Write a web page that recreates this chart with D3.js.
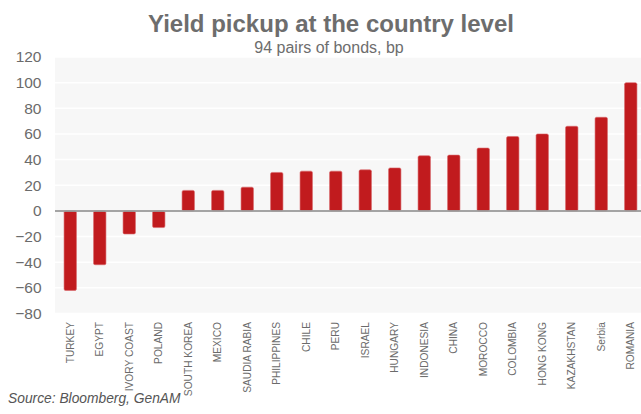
<!DOCTYPE html>
<html><head><meta charset="utf-8">
<script src="https://cdn.jsdelivr.net/npm/d3@7"></script>
<style>body{margin:0;background:#fff;} svg{display:block;font-family:"Liberation Sans",Arial,sans-serif;}</style>
</head><body>
<svg id="chart" width="641" height="414"></svg>
<script>
const categories = ["TURKEY","EGYPT","IVORY COAST","POLAND","SOUTH KOREA","MEXICO","SAUDIA RABIA","PHILIPPINES","CHILE","PERU","ISRAEL","HUNGARY","INDONESIA","CHINA","MOROCCO","COLOMBIA","HONG KONG","KAZAKHSTAN","Serbia","ROMANIA"];
const values = [-62,-42,-18,-13,16,16,18.5,30,31,31,32,33.5,43,43.5,49,58,60,66,73,100];
const yTicks = [-80,-60,-40,-20,0,20,40,60,80,100,120];

const svg = d3.select("#chart");
const x = d3.scaleBand().domain(categories).range([55.5, 645.5]).paddingInner(0.58).paddingOuter(0.29);
const y = d3.scaleLinear().domain([-80,120]).range([313.5, 57]);

// plot background
svg.append("rect").attr("x",55).attr("y",y(120)).attr("width",641-55).attr("height",y(-80)-y(120)).attr("fill","#f7f7f7");

// gridlines
svg.append("g").selectAll("line").data(yTicks.filter(d=>d!==0)).join("line")
  .attr("x1",55).attr("x2",641).attr("y1",d=>y(d)).attr("y2",d=>y(d))
  .attr("stroke","#ffffff").attr("stroke-width",1.5);

// y axis labels
const yAxis = d3.axisLeft(y).tickValues(yTicks).tickSize(0).tickPadding(0);
const gy = svg.append("g").attr("transform","translate(41.5,0)").call(yAxis);
gy.select(".domain").remove();
gy.selectAll("text").attr("font-size",15.5).attr("fill","#6b6b6b").attr("font-family","Liberation Sans, Arial, sans-serif");

// bars
svg.append("g").selectAll("rect").data(values).join("rect")
  .attr("x",(d,i)=>x(categories[i]))
  .attr("width",x.bandwidth())
  .attr("y",d=>Math.min(y(d),y(0)))
  .attr("height",d=>Math.abs(y(d)-y(0)))
  .attr("rx",1.5)
  .attr("fill","#c11b1e")
  .attr("stroke","#d9666a").attr("stroke-width",0.6);

// zero line
svg.append("line").attr("x1",55).attr("x2",641).attr("y1",y(0)).attr("y2",y(0))
  .attr("stroke","#9a9a9a").attr("stroke-width",2).attr("stroke-opacity",0.9);

// x labels
const xAxis = d3.axisBottom(x).tickSize(0).tickPadding(0);
const gx = svg.append("g").attr("transform","translate(0,322)").call(xAxis);
gx.select(".domain").remove();
gx.selectAll("text")
  .attr("transform","rotate(-90)")
  .attr("x",0).attr("y",0).attr("dy","0.35em")
  .attr("text-anchor","end")
  .attr("font-size",10.2).attr("fill","#6b6b6b")
  .attr("font-family","Liberation Sans, Arial, sans-serif");

// title
svg.append("text").attr("x",331).attr("y",32).attr("text-anchor","middle")
  .attr("font-size",24).attr("font-weight","bold").attr("fill","#6d6d6d")
  .text("Yield pickup at the country level");
svg.append("text").attr("x",329).attr("y",53).attr("text-anchor","middle")
  .attr("font-size",16).attr("fill","#6d6d6d")
  .text("94 pairs of bonds, bp");

// source
svg.append("text").attr("x",8).attr("y",403).attr("font-size",13.8).attr("font-style","italic").attr("fill","#555")
  .text("Source: Bloomberg, GenAM");
</script>
</body></html>
